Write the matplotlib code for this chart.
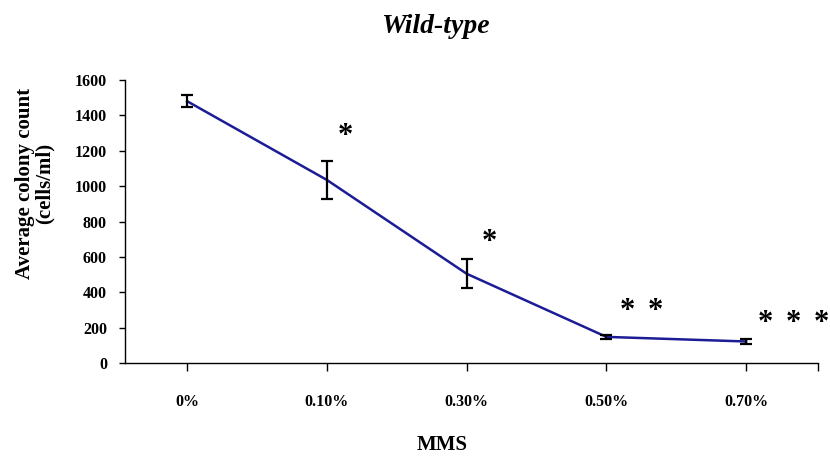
import matplotlib
matplotlib.use("Agg")
import matplotlib.pyplot as plt

categories = ["0%", "0.10%", "0.30%", "0.50%", "0.70%"]
counts = [1480, 1035, 505, 148, 122]
errors = [35, 110, 82, 10, 15]
sig_marks = ["", "*", "*", "* *", "* * *"]
yticks = [0, 200, 400, 600, 800, 1000, 1200, 1400, 1600]

plt.rcParams['font.family'] = ['Liberation Serif', 'DejaVu Serif']

fig = plt.figure(figsize=(8.3, 4.59), dpi=100)
ax = fig.add_axes([0.1506, 0.209, 0.835, 0.6167])

x = list(range(len(categories)))
ax.plot(x, counts, color='#1c1c96', lw=1.8, zorder=2)
ax.errorbar(x, counts, yerr=errors, fmt='none', ecolor='black', elinewidth=1.6,
            capsize=4, capthick=1.6, zorder=3)

ax.set_xlim(-0.445, 4.515)
ax.set_ylim(0, 1600)
ax.set_xticks(x + [4.515])
ax.set_xticklabels(categories + [""], fontweight='bold', fontsize=11.5)
ax.set_yticks(yticks)
ax.set_yticklabels([str(v) for v in yticks], fontweight='bold', fontsize=11.5)
ax.tick_params(axis='x', length=6, width=1, pad=16, direction='out')
ax.tick_params(axis='y', length=4, width=1, pad=9, direction='out')
for s in ['top', 'right']:
    ax.spines[s].set_visible(False)
for s in ['left', 'bottom']:
    ax.spines[s].set_linewidth(1)

# significance asterisks
offsets = {1: [0.13], 2: [0.16], 3: [0.15, 0.35], 4: [0.14, 0.34, 0.54]}
heights = {1: 1280, 2: 680, 3: 290, 4: 222}
for i, mark in enumerate(sig_marks):
    if not mark:
        continue
    n = mark.count("*")
    for k in range(n):
        ax.text(x[i] + offsets[i][k], heights[i], "*", fontsize=22, fontweight='bold',
                ha='center', va='center', clip_on=False)

fig.text(0.524, 0.942, "Wild-type", fontsize=20, fontweight='bold', style='italic',
         ha='center', va='center')
fig.text(0.042, 0.6, "Average colony count\n(cells/ml)", fontsize=15, fontweight='bold',
         rotation=90, ha='center', va='center', linespacing=1.0)
fig.text(0.5325, 0.03, "MMS", fontsize=15, fontweight='bold', ha='center', va='center')

fig.savefig("out.png", dpi=100)
